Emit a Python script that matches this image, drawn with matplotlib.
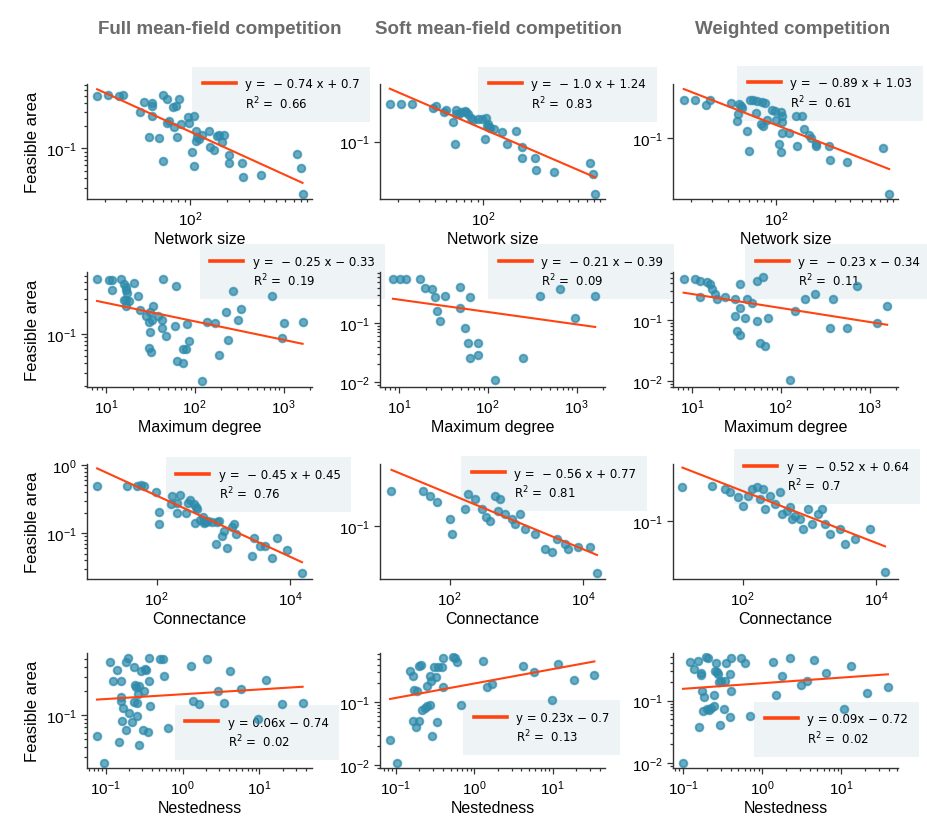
import numpy as np
import matplotlib.pyplot as plt
from matplotlib.lines import Line2D
from matplotlib.ticker import FixedLocator, NullLocator

plt.rcParams['font.family'] = ['Liberation Sans', 'DejaVu Sans']
plt.rcParams['axes.unicode_minus'] = True

# --- data (x, feasible area) ---
# row 1 : network size
size_full_x = [17.3, 21.3, 26.3, 28.3, 42.2, 49.0, 49.0, 48.4, 38.8, 60.0, 64.7, 71.6, 76.7, 80.7, 46.0, 56.0,
               59.3, 64.3, 67.6, 73.5, 77.6, 84.4, 95.7, 96.9, 107, 103, 106.5, 111, 113.5, 112, 117, 125, 141.6,
               146, 155.6, 165.7, 173, 188, 182, 206.5, 206.5, 266, 271, 381, 743, 802, 828]
size_full_y = [0.490, 0.510, 0.500, 0.508, 0.412, 0.400, 0.361, 0.271, 0.303, 0.515, 0.452, 0.354, 0.368, 0.447,
               0.140, 0.137, 0.067, 0.215, 0.228, 0.194, 0.140, 0.208, 0.258, 0.215, 0.271, 0.089, 0.059, 0.172,
               0.140, 0.126, 0.133, 0.152, 0.168, 0.105, 0.096, 0.147, 0.150, 0.152, 0.120, 0.082, 0.064, 0.064,
               0.042, 0.0447, 0.085, 0.055, 0.0248]
size_soft_x = [17.2, 21.1, 26.2, 38.9, 41.4, 47.9, 50.0, 56.1, 58.6, 59.7, 63.6, 65.6, 70.8, 75.4, 79.3, 82.8,
               96.9, 103, 106, 110, 113, 123, 143, 155, 185, 206, 206, 265, 270, 379, 740, 797, 823, 108, 112,
               90, 72, 60]
size_soft_y = [0.519, 0.519, 0.519, 0.430, 0.469, 0.361, 0.406, 0.233, 0.090, 0.406, 0.335, 0.372, 0.388, 0.335,
               0.277, 0.258, 0.269, 0.112, 0.277, 0.216, 0.179, 0.174, 0.155, 0.090, 0.162, 0.078, 0.0483,
               0.0483, 0.029, 0.0269, 0.0394, 0.0243, 0.0101, 0.200, 0.190, 0.270, 0.360, 0.340]
size_weight_x = [17.5, 21.5, 26.7, 28.6, 43.0, 47.3, 48.5, 49.4, 51.0, 52.6, 57.1, 59.7, 60.8, 64.8, 67.7, 69.9,
                 74.4, 76.8, 78.2, 80.2, 84.4, 92.7, 96.9, 98.8, 105, 109, 109, 112, 112, 111, 127, 144, 147,
                 161, 169, 185, 191, 210, 213, 270, 274, 382, 753, 838]
size_weight_y = [0.521, 0.521, 0.426, 0.521, 0.451, 0.214, 0.285, 0.438, 0.408, 0.369, 0.139, 0.058, 0.521,
                 0.528, 0.298, 0.506, 0.183, 0.484, 0.173, 0.457, 0.223, 0.343, 0.329, 0.223, 0.0783, 0.0547,
                 0.306, 0.265, 0.205, 0.129, 0.126, 0.265, 0.0729, 0.265, 0.149, 0.115, 0.104, 0.0783, 0.0708,
                 0.0708, 0.0399, 0.0361, 0.065, 0.0091]

# row 2 : maximum degree
deg_full_x = [7.98, 10.9, 11.9, 15.0, 16.1, 16.7, 17.1, 17.4, 11.9, 16.1, 17.1, 18.3, 16.8, 20.9, 23.2, 24.2,
              28.0, 30.5, 32.7, 31.4, 34.2, 38.9, 43.2, 43.2, 47.1, 31.4, 30.5, 32.2, 44.3, 61.1, 60.0, 62.7,
              74.5, 74.5, 79.8, 81.2, 87.1, 122, 139, 169, 188, 224, 240, 273, 306, 333, 738, 957, 1018, 1637]
deg_full_y = [0.553, 0.526, 0.537, 0.553, 0.475, 0.430, 0.396, 0.357, 0.396, 0.286, 0.286, 0.280, 0.238, 0.485,
              0.323, 0.210, 0.175, 0.147, 0.155, 0.200, 0.238, 0.175, 0.152, 0.120, 0.095, 0.105, 0.0652,
              0.0571, 0.553, 0.443, 0.129, 0.0425, 0.0403, 0.0619, 0.0619, 0.136, 0.0807, 0.0228, 0.143,
              0.140, 0.0521, 0.200, 0.0832, 0.376, 0.152, 0.219, 0.323, 0.0876, 0.140, 0.143]
deg_soft_x = [8.6, 10.3, 12.0, 17.3, 19.6, 23.5, 25.5, 33.0, 26.8, 29.0, 48.7, 48.7, 63, 55.5, 60, 77.6, 77.6,
              63, 121, 250, 389, 650, 962, 1620]
deg_soft_y = [0.56, 0.56, 0.56, 0.56, 0.40, 0.38, 0.28, 0.29, 0.158, 0.108, 0.41, 0.178, 0.28, 0.083, 0.046,
              0.046, 0.029, 0.026, 0.011, 0.026, 0.29, 0.38, 0.121, 0.29]
deg_weight_x = [8.1, 10.8, 12.3, 14.7, 16.0, 16.8, 18.2, 19.1, 12.3, 23.6, 30.5, 34.8, 39.6, 30.5, 32.1, 34.8,
                41.7, 47.4, 54.1, 58.5, 66.6, 71.9, 34.8, 54.1, 63.1, 127, 145, 188, 244, 360, 389, 559, 724,
                1220, 1578]
deg_weight_y = [0.475, 0.475, 0.44, 0.425, 0.395, 0.328, 0.272, 0.226, 0.244, 0.244, 0.226, 0.156, 0.108, 0.116,
                0.0665, 0.0574, 0.226, 0.188, 0.0964, 0.0426, 0.038, 0.108, 0.395, 0.44, 0.513, 0.0104, 0.14,
                0.226, 0.272, 0.0743, 0.226, 0.0743, 0.367, 0.0895, 0.168]

# row 3 : connectance
con_full_x = [12.9, 36.3, 50.1, 57.5, 64.6, 97.7, 108, 108, 162, 172, 200, 204, 221, 279, 299, 316, 367, 385,
              403, 376, 447, 501, 519, 550, 596, 519, 668, 767, 794, 861, 944, 1035, 1122, 1334, 1462, 1549,
              2661, 2884, 3548, 4121, 5309, 6310, 8913, 14962]
con_full_y = [0.485, 0.497, 0.485, 0.508, 0.497, 0.405, 0.201, 0.136, 0.267, 0.346, 0.273, 0.195, 0.366, 0.197,
              0.276, 0.309, 0.267, 0.238, 0.225, 0.140, 0.155, 0.170, 0.152, 0.144, 0.152, 0.139, 0.144, 0.069,
              0.144, 0.152, 0.0914, 0.108, 0.0601, 0.124, 0.136, 0.0967, 0.0459, 0.0835, 0.0652, 0.0652,
              0.0428, 0.0835, 0.0562, 0.0255]
con_soft_x = [13.5, 39.4, 50.1, 63.8, 100, 107, 168, 186, 237, 302, 347, 398, 473, 562, 525, 668, 851, 944,
              1122, 1334, 1884, 2661, 3388, 4027, 5309, 5888, 8318, 12590, 16030]
con_soft_y = [0.51, 0.51, 0.40, 0.31, 0.139, 0.069, 0.221, 0.44, 0.35, 0.221, 0.152, 0.126, 0.40, 0.35, 0.20,
              0.175, 0.139, 0.11, 0.175, 0.087, 0.069, 0.034, 0.030, 0.055, 0.043, 0.034, 0.0376, 0.0376, 0.011]
con_weight_x = [12.6, 34.3, 53.7, 63.8, 84.1, 100, 119, 136, 162, 180, 200, 214, 254, 302, 359, 385, 457, 507,
                543, 603, 716, 794, 944, 1084, 1334, 1531, 1698, 2018, 2851, 3388, 4786, 8035, 13490]
con_weight_y = [0.479, 0.50, 0.437, 0.38, 0.302, 0.20, 0.316, 0.437, 0.479, 0.275, 0.437, 0.174, 0.316, 0.219,
                0.38, 0.138, 0.158, 0.19, 0.11, 0.126, 0.11, 0.069, 0.174, 0.087, 0.138, 0.174, 0.087, 0.055,
                0.069, 0.0347, 0.0437, 0.069, 0.0095]

# row 4 : nestedness
nest_full_x = [0.0770, 0.0942, 0.1128, 0.125, 0.142, 0.149, 0.157, 0.157, 0.157, 0.168, 0.165, 0.182, 0.182,
               0.195, 0.201, 0.220, 0.232, 0.234, 0.244, 0.251, 0.259, 0.259, 0.264, 0.269, 0.269, 0.292, 0.301,
               0.313, 0.323, 0.336, 0.357, 0.364, 0.375, 0.371, 0.506, 0.560, 0.577, 0.650, 1.27, 1.38, 1.63,
               2.10, 2.86, 3.46, 4.10, 5.77, 9.70, 12.1, 19.5, 36.4]
nest_full_y = [0.0552, 0.0249, 0.455, 0.264, 0.369, 0.0455, 0.268, 0.169, 0.151, 0.121, 0.085, 0.0649, 0.455,
               0.511, 0.106, 0.0826, 0.144, 0.402, 0.237, 0.222, 0.140, 0.098, 0.183, 0.0426, 0.233, 0.351,
               0.0649, 0.201, 0.376, 0.365, 0.0607, 0.268, 0.128, 0.511, 0.497, 0.501, 0.304, 0.0681, 0.414,
               0.151, 0.137, 0.501, 0.201, 0.141, 0.351, 0.209, 0.090, 0.277, 0.137, 0.140]
nest_soft_x = [0.0847, 0.103, 0.152, 0.165, 0.168, 0.171, 0.182, 0.185, 0.200, 0.210, 0.200, 0.214, 0.236, 0.248,
               0.253, 0.274, 0.287, 0.274, 0.282, 0.308, 0.326, 0.333, 0.350, 0.386, 0.397, 0.405, 0.532, 0.570,
               0.611, 0.680, 1.31, 1.44, 1.67, 4.15, 5.78, 9.70, 11.8, 18.9, 34.0]
nest_soft_y = [0.0251, 0.0108, 0.312, 0.0509, 0.267, 0.157, 0.0399, 0.150, 0.384, 0.399, 0.0498, 0.0764, 0.0802,
               0.185, 0.0885, 0.0918, 0.0294, 0.260, 0.222, 0.371, 0.257, 0.0491, 0.371, 0.371, 0.504, 0.174,
               0.522, 0.504, 0.435, 0.0907, 0.462, 0.174, 0.196, 0.384, 0.301, 0.110, 0.409, 0.230, 0.273]
nest_weight_x = [0.100, 0.121, 0.136, 0.155, 0.159, 0.171, 0.171, 0.179, 0.175, 0.182, 0.197, 0.207, 0.213, 0.201,
                 0.228, 0.244, 0.244, 0.251, 0.264, 0.269, 0.277, 0.285, 0.290, 0.305, 0.336, 0.326, 0.353, 0.388,
                 0.400, 0.396, 0.408, 0.546, 0.601, 0.695, 1.37, 1.51, 1.78, 2.22, 3.12, 3.72, 4.48, 6.34, 10.7,
                 13.1, 21.1, 38.8]
nest_weight_y = [0.0099, 0.412, 0.322, 0.438, 0.0374, 0.278, 0.258, 0.0692, 0.145, 0.113, 0.496, 0.483, 0.0717,
                 0.0735, 0.0753, 0.123, 0.0832, 0.303, 0.402, 0.292, 0.268, 0.197, 0.0407, 0.209, 0.209, 0.0735,
                 0.402, 0.054, 0.478, 0.268, 0.141, 0.478, 0.397, 0.0574, 0.412, 0.123, 0.245, 0.478, 0.178,
                 0.209, 0.449, 0.275, 0.0735, 0.356, 0.133, 0.164]

titles = ['Full mean-field competition', 'Soft mean-field competition', 'Weighted competition']
xlabels = ['Network size', 'Maximum degree', 'Connectance', 'Nestedness']

# regression labels (log10-log10 fits)
slopes = [[-0.74, -1.0, -0.89], [-0.25, -0.21, -0.23], [-0.45, -0.56, -0.52], [0.06, 0.23, 0.09]]
intercepts = [[0.7, 1.24, 1.03], [-0.33, -0.39, -0.34], [0.45, 0.77, 0.64], [-0.74, -0.7, -0.72]]
r2 = [['0.66', '0.83', '0.61'], ['0.19', '0.09', '0.11'], ['0.76', '0.81', '0.7'], ['0.02', '0.13', '0.02']]

panels = [[(size_full_x, size_full_y), (size_soft_x, size_soft_y), (size_weight_x, size_weight_y)],
          [(deg_full_x, deg_full_y), (deg_soft_x, deg_soft_y), (deg_weight_x, deg_weight_y)],
          [(con_full_x, con_full_y), (con_soft_x, con_soft_y), (con_weight_x, con_weight_y)],
          [(nest_full_x, nest_full_y), (nest_soft_x, nest_soft_y), (nest_weight_x, nest_weight_y)]]

# --- layout ---
W, H = 927, 829
lefts = [87, 380, 673]
tops = [85, 273, 465, 654]
aw, ah = 225, 115

xlims = [(14.3, 990), (6.15, 2090), (9.1, 21100), None]
xlims_nest = [(0.0571, 48.2), (0.063, 46.4), (0.0748, 52)]
ylims = [[(0.0212, 0.714), (0.0082, 1.24), (0.0074, 1.04)],
         [(0.0192, 0.685), (0.0083, 0.736), (0.008, 0.617)],
         [(0.0211, 1.035), (0.0085, 1.8), (0.0069, 1.38)],
         [(0.0218, 0.596), (0.00895, 0.612), (0.0083, 0.582)]]
only_tenth = [(0, 1), (0, 2), (2, 1), (2, 2)]

leg_loc = [['upper left'] * 3, ['upper left'] * 3, ['upper left'] * 3, ['lower left'] * 3]
leg_anchor = [[(0.467, 1.15), (0.436, 1.15), (0.284, 1.16)],
              [(0.50, 1.24), (0.48, 1.24), (0.32, 1.24)],
              [(0.35, 1.06), (0.36, 1.07), (0.27, 1.13)],
              [(0.39, 0.07), (0.37, 0.11), (0.36, 0.10)]]

dot = '#2e8bab'
red = '#ff4411'

fig = plt.figure(figsize=(W / 100, H / 100), dpi=100)

for r in range(4):
    for c in range(3):
        ax = fig.add_axes([lefts[c] / W, 1 - (tops[r] + ah) / H, aw / W, ah / H])
        ax.set_facecolor('none')
        xs, ys = panels[r][c]
        ax.scatter(xs, ys, s=30, color=dot, alpha=0.72, linewidths=1.4, edgecolors=dot, zorder=2)

        a, b = slopes[r][c], intercepts[r][c]
        lx = np.log10([min(xs), max(xs)])
        lxx = np.linspace(lx[0], lx[1], 50)
        if a < 0:
            lab = 'y =  \u2212 %s x + %s' % (abs(a), b) if b >= 0 else 'y =  \u2212 %s x \u2212 %s' % (abs(a), abs(b))
        else:
            lab = 'y = %sx \u2212 %s' % (a, abs(b))
        fit, = ax.plot(10 ** lxx, 10 ** (a * lxx + b), color=red, lw=1.5, zorder=3)
        blank = Line2D([], [], color='none')

        ax.set_xscale('log')
        ax.set_yscale('log')
        ax.set_xlim(xlims[r] if r < 3 else xlims_nest[c])
        ax.set_ylim(ylims[r][c])
        if (r, c) in only_tenth:
            ax.yaxis.set_major_locator(FixedLocator([0.1]))
            ax.yaxis.set_minor_locator(NullLocator())
        if r == 2:
            ax.xaxis.set_major_locator(FixedLocator([1e2, 1e4]))
            ax.xaxis.set_minor_locator(NullLocator())

        for s in ['top', 'right']:
            ax.spines[s].set_visible(False)
        for s in ['left', 'bottom']:
            ax.spines[s].set_color('#333333')
            ax.spines[s].set_linewidth(1.0)
        ax.tick_params(which='both', labelsize=11, color='#333333', width=0.9)
        ax.tick_params(which='major', length=4)
        ax.tick_params(which='minor', length=2.5)
        ax.set_xlabel(xlabels[r], fontsize=11.5, labelpad=2)
        if c == 0:
            ax.set_ylabel('Feasible area', fontsize=12, labelpad=4)

        leg = ax.legend([fit, blank], [lab, 'R$^{2}$ =  ' + r2[r][c]],
                        loc=leg_loc[r][c], bbox_to_anchor=leg_anchor[r][c], frameon=True, fancybox=False,
                        facecolor='#eef3f5', edgecolor='none', framealpha=1, borderaxespad=0,
                        handlelength=2.8, borderpad=0.9, handletextpad=0.8, labelspacing=0.35,
                        prop={'family': 'DejaVu Sans', 'size': 8.5})
        leg.get_lines()[0].set_linewidth(2.6)
        leg.set_zorder(1)

title_x = [220, 498, 793]
for c in range(3):
    fig.text(title_x[c] / W, 1 - 30 / H, titles[c], ha='center', va='center', fontsize=13.5,
             fontweight='bold', color='#6b6b6b')

fig.savefig('out.png', dpi=100)
